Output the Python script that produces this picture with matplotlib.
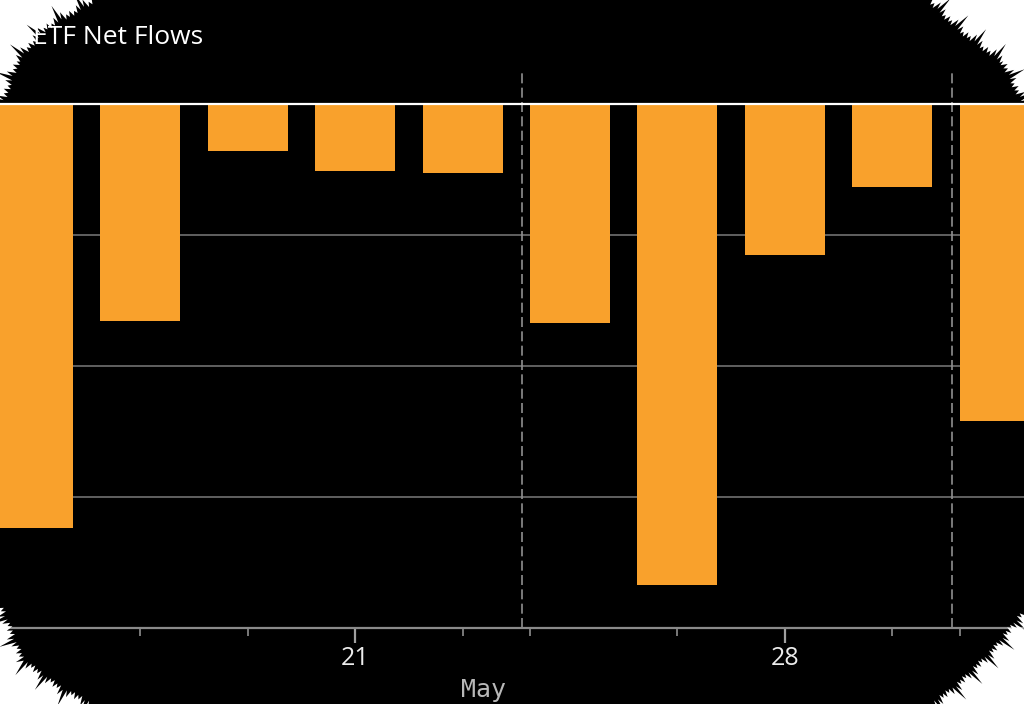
import numpy as np
import matplotlib
matplotlib.use('Agg')
import matplotlib.pyplot as plt
from matplotlib.patches import Polygon

# daily ETF net flows (negative = outflows), in grid units
days = ['May 16', 'May 17', 'May 20', 'May 21', 'May 22',
        'May 23', 'May 24', 'May 28', 'May 29', 'May 30']
flows = [-3.24, -1.66, -0.36, -0.51, -0.53, -1.67, -3.67, -1.15, -0.63, -2.42]
major_ticks = [3, 7]
major_labels = ['21', '28']
minor_ticks = [1, 2, 4, 4.63, 6, 8, 8.63]
dashed_x = [4.55, 8.56]

W, H = 1024, 704
orange = '#f9a12c'

fig = plt.figure(figsize=(W / 100, H / 100), dpi=100, facecolor='black')
# axes: bars cut at both edges, bottom spine at y=628 px, top at y=70 px
ax = fig.add_axes([0, (H - 628) / H, 1, (628 - 70) / H])
ax.set_facecolor('black')

x = np.arange(len(flows))
ax.bar(x, flows, width=0.745, color=orange, zorder=2)
ax.set_xlim(-0.307, 9.227)
ax.set_ylim(-4, 0.26)

for gy in [-1, -2, -3]:
    ax.axhline(gy, color='#686868', lw=1.3, zorder=1)
ax.axhline(0, color='white', lw=1.6, zorder=3)
for dx in dashed_x:
    ax.axvline(dx, color='#8f8f8f', lw=1.2, ls=(0, (6, 2.6)), zorder=1)

for side in ['top', 'left', 'right']:
    ax.spines[side].set_visible(False)
ax.spines['bottom'].set_color('#8a8a8a')
ax.spines['bottom'].set_linewidth(1.6)
ax.set_yticks([])

ax.set_xticks(major_ticks)
ax.set_xticklabels(major_labels, family='Open Sans', fontsize=18, color='#ececec')
ax.set_xticks(minor_ticks, minor=True)
ax.tick_params(axis='x', which='major', length=11, width=1.6, color='#a0a0a0', pad=2)
ax.tick_params(axis='x', which='minor', length=6, width=1.4, color='#7a7a7a')

fig.text(483 / W, 1 - 690 / H, 'May', family='DejaVu Sans Mono', fontsize=18,
         color='#b8b8b8', ha='center', va='center')
fig.text(33 / W, 1 - 37 / H, 'ETF Net Flows', family='Open Sans', fontsize=19,
         color='white', ha='left', va='center')


# torn paper corners: white region bounded by a ragged edge through the given points
def torn(corner, path, n=70, depth=9):
    pattern = [1.0, 0.2, 0.7, 0.1, 0.9, 0.4, 0.15, 1.0, 0.5, 0.3, 0.8, 0.05]
    path = np.array(path, float)
    c = np.array(corner, float)
    seg = np.diff(path, axis=0)
    seglen = np.hypot(seg[:, 0], seg[:, 1])
    cum = np.concatenate([[0], np.cumsum(seglen)])
    pts = [path[0]]
    for i in range(1, n):
        s = cum[-1] * i / n
        j = min(np.searchsorted(cum, s) - 1, len(seg) - 1)
        t = (s - cum[j]) / seglen[j]
        p = path[j] + seg[j] * t
        d = seg[j] / seglen[j]
        normal = np.array([-d[1], d[0]])
        if np.dot(normal, c - p) < 0:
            normal = -normal
        k = pattern[i % len(pattern)]
        off = depth * 1.8 * k if i % 2 else -depth * 0.4 * k
        pts.append(p + normal * off)
    pts.append(path[-1])
    pts.append(c)
    pts = np.array(pts)
    pts[:, 0] /= W
    pts[:, 1] = 1 - pts[:, 1] / H
    fig.add_artist(Polygon(pts, closed=True, facecolor='white', edgecolor='none',
                           transform=fig.transFigure, zorder=10))


torn((0, 0), [(95, 0), (45, 28), (18, 60), (0, 108)])
torn((W, 0), [(929, 0), (960, 30), (1003, 62), (W, 104)])
torn((0, H), [(0, 605), (22, 660), (62, 690), (92, H)])
torn((W, H), [(W, 612), (992, 652), (955, 688), (932, H)])

fig.savefig('out.png', dpi=100, facecolor='black')
